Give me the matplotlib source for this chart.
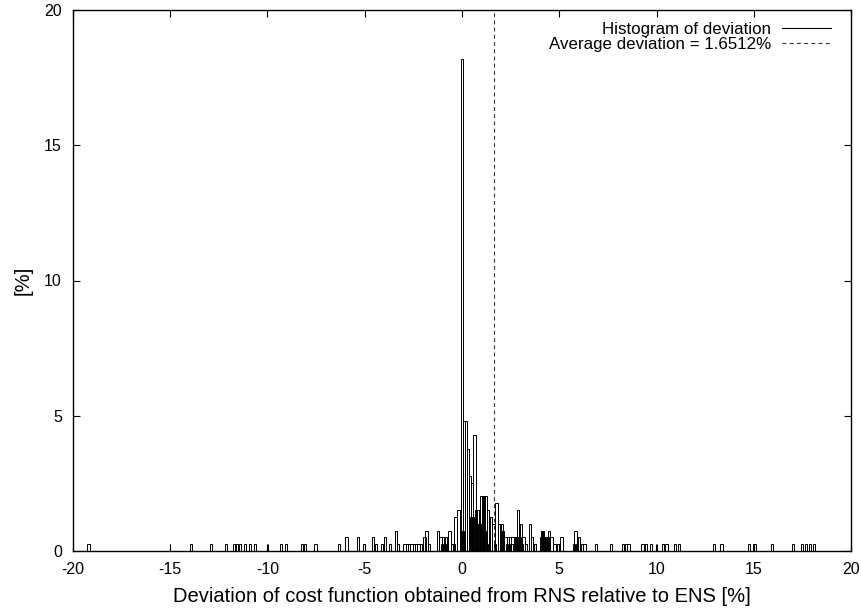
import matplotlib
matplotlib.use("Agg")
import matplotlib.pyplot as plt
from matplotlib.lines import Line2D

plt.rcParams['font.family'] = ['Liberation Sans', 'DejaVu Sans']

N_SAMPLES = 396  # counts -> percent

# main histogram bins (position, count)
bin_x = [-19.2, -13.92, -12.9, -12.12, -11.71, -11.56, -11.40, -11.17, -10.89, -10.63,
         -9.32, -9.04, -8.22, -8.06, -7.53, -6.34, -5.93, -5.34, -5.05, -4.56, -4.42,
         -4.13, -3.95, -3.70, -3.41, -3.29, -2.95, -2.83, -2.71, -2.59, -2.47, -2.35,
         -2.23, -2.11, -1.92, -1.82, -1.68, -1.25, -1.10, -0.98, -0.82, -0.64, -0.52,
         -0.33, -0.18, 0.0, 0.10, 0.20, 0.30, 0.40, 0.50, 0.64, 0.80,
         0.90, 1.00, 1.10, 1.20, 1.33, 1.48, 1.62, 1.77, 1.93, 2.03, 2.12, 2.24, 2.38,
         2.48, 2.60, 2.72, 2.89, 3.05, 3.17, 3.30, 3.48, 3.60, 3.75, 4.11, 4.21, 4.32,
         4.47, 4.60, 4.75, 4.93, 5.12, 5.75, 5.83, 6.02, 6.16, 6.30, 6.88, 7.67, 8.28,
         8.42, 8.56, 9.28, 9.45, 9.72, 10.34, 10.51, 10.96, 11.16, 12.96, 13.35, 14.76,
         15.03, 15.95, 17.02, 17.49, 17.70, 17.90, 18.11]
bin_count = [1, 1, 1, 1, 1, 1, 1, 1, 1, 1,
             1, 1, 1, 1, 1, 1, 2, 2, 1, 2, 1,
             1, 2, 1, 3, 1, 1, 1, 1, 1, 1, 1,
             1, 1, 2, 3, 1, 3, 2, 2, 2, 3, 1,
             5, 6, 72, 19, 19, 15, 11, 10, 17, 6,
             4, 8, 8, 8, 6, 5, 4, 7, 4, 4, 3, 2, 2,
             2, 2, 2, 6, 4, 2, 1, 4, 2, 1, 3, 2, 2,
             3, 2, 1, 1, 2, 1, 3, 2, 1, 1, 1, 1, 1,
             1, 1, 1, 1, 1, 1, 1, 1, 1, 1, 1, 1,
             1, 1, 1, 1, 1, 1, 1]

# overlapping bins that give the dark / grey look in the centre
over_x = [-1.04, -0.92, -0.76, -0.42, 0.05, 0.45, 0.58, 0.72, 0.85, 1.05, 1.15,
          1.40, 1.70, 2.30, 2.55, 2.80, 2.95, 3.10, 4.06, 4.16, 4.40, 5.92]
over_count = [1, 1, 1, 1, 3, 5, 5, 6, 6, 3, 3,
              1, 1, 1, 1, 2, 2, 1, 2, 3, 2, 1]

# single-line bins
thin_x = [-15.0, -9.98, 9.96]
thin_count = [1, 1, 1]

avg_dev = 1.6512

fig = plt.figure(figsize=(8.62, 6.14), dpi=100)
ax = fig.add_axes([73 / 862, 1 - 551 / 614, (851 - 73) / 862, (551 - 10) / 614])

to_pct = lambda cs: [c * 100.0 / N_SAMPLES for c in cs]

LW = 0.7
ax.bar(bin_x, to_pct(bin_count), width=0.12, fill=False, edgecolor='black',
       linewidth=LW)
ax.bar(over_x, to_pct(over_count), width=0.12, fill=False, edgecolor='black',
       linewidth=LW)
ax.bar(thin_x, to_pct(thin_count), width=0.01, fill=False, edgecolor='black',
       linewidth=LW)
ax.axvline(avg_dev, color='#333333', linestyle=(0, (3.5, 3)), linewidth=0.8)

ax.set_xlim(-20, 20)
ax.set_ylim(0, 20)
ax.set_xticks([-20, -15, -10, -5, 0, 5, 10, 15, 20])
ax.set_xticklabels(['-20', '-15', '-10', '-5', '0', '5', '10', '15', '20'])
ax.set_yticks([0, 5, 10, 15, 20])
ax.tick_params(direction='in', length=5, width=0.8, top=True, right=True,
               labelsize=11.5, pad=8)
for s in ax.spines.values():
    s.set_linewidth(1.0)

ax.set_xlabel('Deviation of cost function obtained from RNS relative to ENS [%]',
              fontsize=14.5, labelpad=7)
ax.set_ylabel('[%]', fontsize=14.5, labelpad=8)

handles = [Line2D([], [], color='black', lw=0.8),
           Line2D([], [], color='#333333', lw=0.8, linestyle=(0, (3.5, 3)))]
labels = ['Histogram of deviation', 'Average deviation = 1.6512%']
ax.legend(handles, labels, loc='upper right', markerfirst=False, frameon=False,
          fontsize=12.2, handlelength=2.9, handletextpad=0.65, labelspacing=0.0,
          borderaxespad=0.3, bbox_to_anchor=(0.99, 1.0))

fig.savefig('out.png', dpi=100)
